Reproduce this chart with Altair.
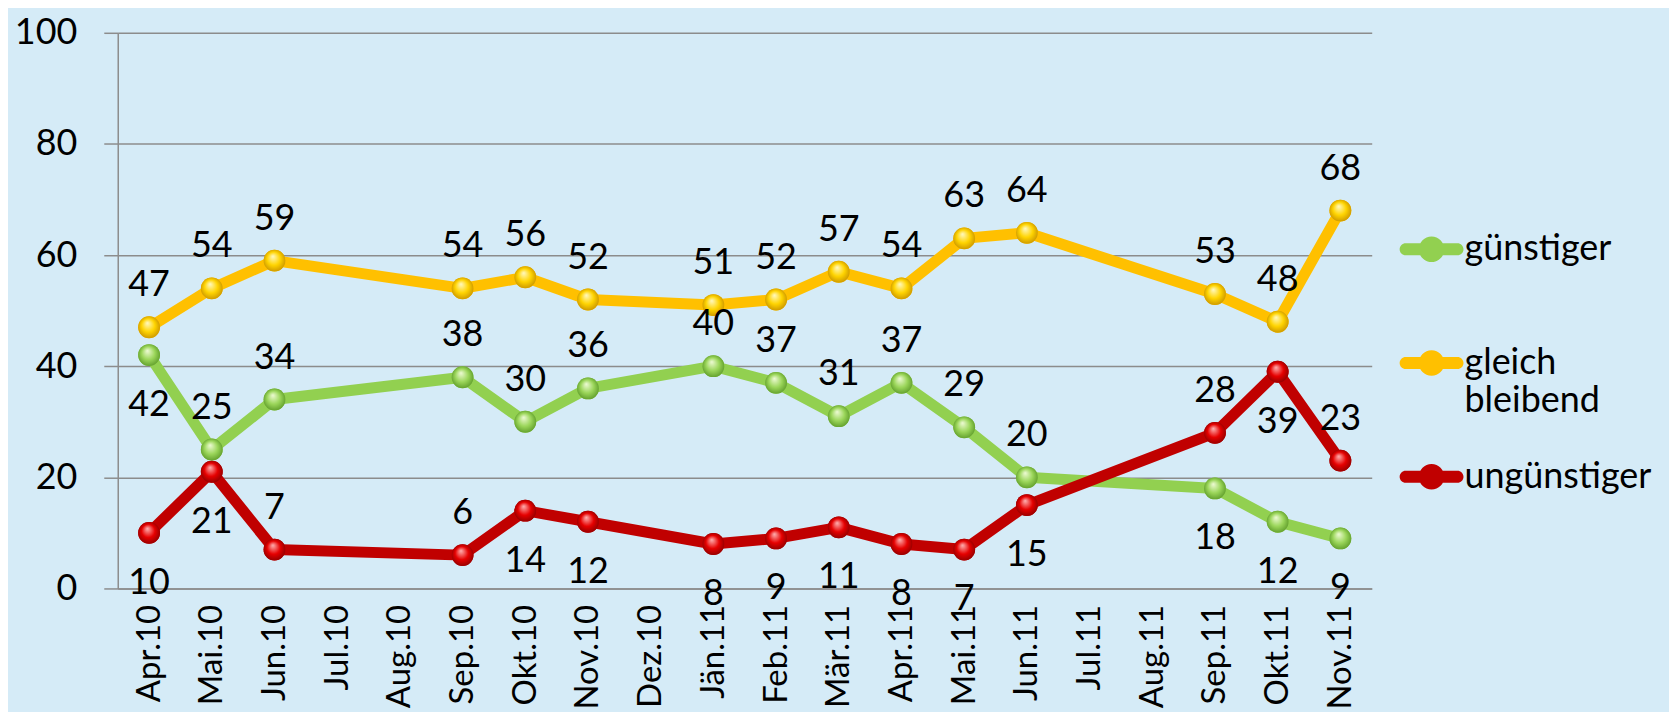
import altair as alt
import pandas as pd

# ---- data ----
months = ["Apr.10", "Mai.10", "Jun.10", "Jul.10", "Aug.10", "Sep.10", "Okt.10", "Nov.10",
          "Dez.10", "Jän.11", "Feb.11", "Mär.11", "Apr.11", "Mai.11", "Jun.11", "Jul.11",
          "Aug.11", "Sep.11", "Okt.11", "Nov.11"]
survey_months = ["Apr.10", "Mai.10", "Jun.10", "Sep.10", "Okt.10", "Nov.10", "Jän.11", "Feb.11",
                 "Mär.11", "Apr.11", "Mai.11", "Jun.11", "Sep.11", "Okt.11", "Nov.11"]
guenstiger = [42, 25, 34, 38, 30, 36, 40, 37, 31, 37, 29, 20, 18, 12, 9]
gleich_bleibend = [47, 54, 59, 54, 56, 52, 51, 52, 57, 54, 63, 64, 53, 48, 68]
unguenstiger = [10, 21, 7, 6, 14, 12, 8, 9, 11, 8, 7, 15, 28, 39, 23]

# where the data label sits relative to its point
side_guenstiger = ["below", "above", "above", "above", "above", "above", "above", "above",
                   "above", "above", "above", "above", "below", "below", "below"]
side_gleich = ["above"] * 15
side_unguenstiger = ["below", "below", "above", "above", "below", "below", "below", "below",
                     "below", "below", "below", "below", "above", "below", "above"]

series_names = ["günstiger", "gleich bleibend", "ungünstiger"]
series_values = [guenstiger, gleich_bleibend, unguenstiger]
series_sides = [side_guenstiger, side_gleich, side_unguenstiger]
line_colors = ["#92D050", "#FFC000", "#C00000"]
sphere_colors = [
    ("#EFFBD6", "#9BD65A", "#5C9A28"),
    ("#FFF9C4", "#FFD400", "#C79200"),
    ("#FFB3B3", "#E60000", "#8C0000"),
]

rows = []
for name, vals, sides in zip(series_names, series_values, series_sides):
    for m, v, s in zip(survey_months, vals, sides):
        rows.append({"Monat": m, "Wert": v, "Reihe": name, "Lage": s})
df = pd.DataFrame(rows)

FONT = "Lato"

x = alt.X("Monat:N", sort=months,
          scale=alt.Scale(type="point", domain=months, padding=0.5),
          axis=alt.Axis(title=None, labelAngle=-90, ticks=False, grid=False,
                        domain=True, domainColor="#8C8C8C", domainWidth=1.5,
                        labelFontSize=33, labelFont=FONT, labelColor="black",
                        labelPadding=16))
y = alt.Y("Wert:Q",
          scale=alt.Scale(domain=[0, 100], nice=False),
          axis=alt.Axis(title=None, values=[0, 20, 40, 60, 80, 100], grid=True,
                        gridColor="#8C8C8C", gridWidth=1.5, tickSize=14,
                        tickColor="#8C8C8C", tickWidth=1.5, domainColor="#8C8C8C",
                        domainWidth=1.5, labelFontSize=36, labelFont=FONT,
                        labelColor="black", labelPadding=27))

base = alt.Chart(df)

layers = []
for name, col in zip(series_names, line_colors):
    layers.append(
        base.transform_filter(alt.datum.Reihe == name)
        .mark_line(color=col, strokeWidth=11, strokeJoin="round", strokeCap="round")
        .encode(x=x, y=y)
    )

legend_symbol = ("M-0.81,-0.19 L0.81,-0.19 A0.19,0.19 0 0,1 0.81,0.19 L-0.81,0.19 "
                 "A0.19,0.19 0 0,1 -0.81,-0.19 Z "
                 "M-0.4,0 A0.4,0.4 0 1,1 0.4,0 A0.4,0.4 0 1,1 -0.4,0 Z")

layers.append(
    base.mark_circle(size=480, opacity=1).encode(
        x=x, y=y,
        color=alt.Color("Reihe:N",
                        scale=alt.Scale(domain=series_names, range=line_colors),
                        legend=alt.Legend(
                            title=None, orient="none", legendX=1285, legendY=185,
                            symbolType=legend_symbol, symbolSize=4096,
                            symbolStrokeWidth=0, labelFontSize=36, labelFont=FONT,
                            labelColor="black", labelOffset=1, labelLimit=400,
                            rowPadding=26,
                            labelExpr="datum.label == 'gleich bleibend' ? ['gleich', 'bleibend'] : [datum.label, ' ']",
                        ))
    )
)

for name, (light, mid, dark) in zip(series_names, sphere_colors):
    grad = {
        "gradient": "radial",
        "x1": 0.42, "y1": 0.3, "r1": 0.0,
        "x2": 0.5, "y2": 0.5, "r2": 0.55,
        "stops": [
            {"offset": 0.0, "color": light},
            {"offset": 0.55, "color": mid},
            {"offset": 1.0, "color": dark},
        ],
    }
    layers.append(
        base.transform_filter(alt.datum.Reihe == name)
        .mark_circle(size=480, opacity=1, fill=grad)
        .encode(x=x, y=y)
    )

layers.append(
    base.transform_filter(alt.datum.Lage == "above")
    .mark_text(dy=-42, fontSize=36, font=FONT, color="black", baseline="middle")
    .encode(x=x, y=y, text="Wert:Q")
)
layers.append(
    base.transform_filter(alt.datum.Lage == "below")
    .mark_text(dy=50, fontSize=36, font=FONT, color="black", baseline="middle")
    .encode(x=x, y=y, text="Wert:Q")
)

chart = (
    alt.layer(*layers)
    .properties(width=1257, height=557,
                padding={"left": 6, "top": 6, "right": 17, "bottom": 2})
    .configure(background="#D5EBF7", font=FONT)
    .configure_view(stroke=None)
)

chart.save("out.html", embed_options={"renderer": "svg", "actions": False})
